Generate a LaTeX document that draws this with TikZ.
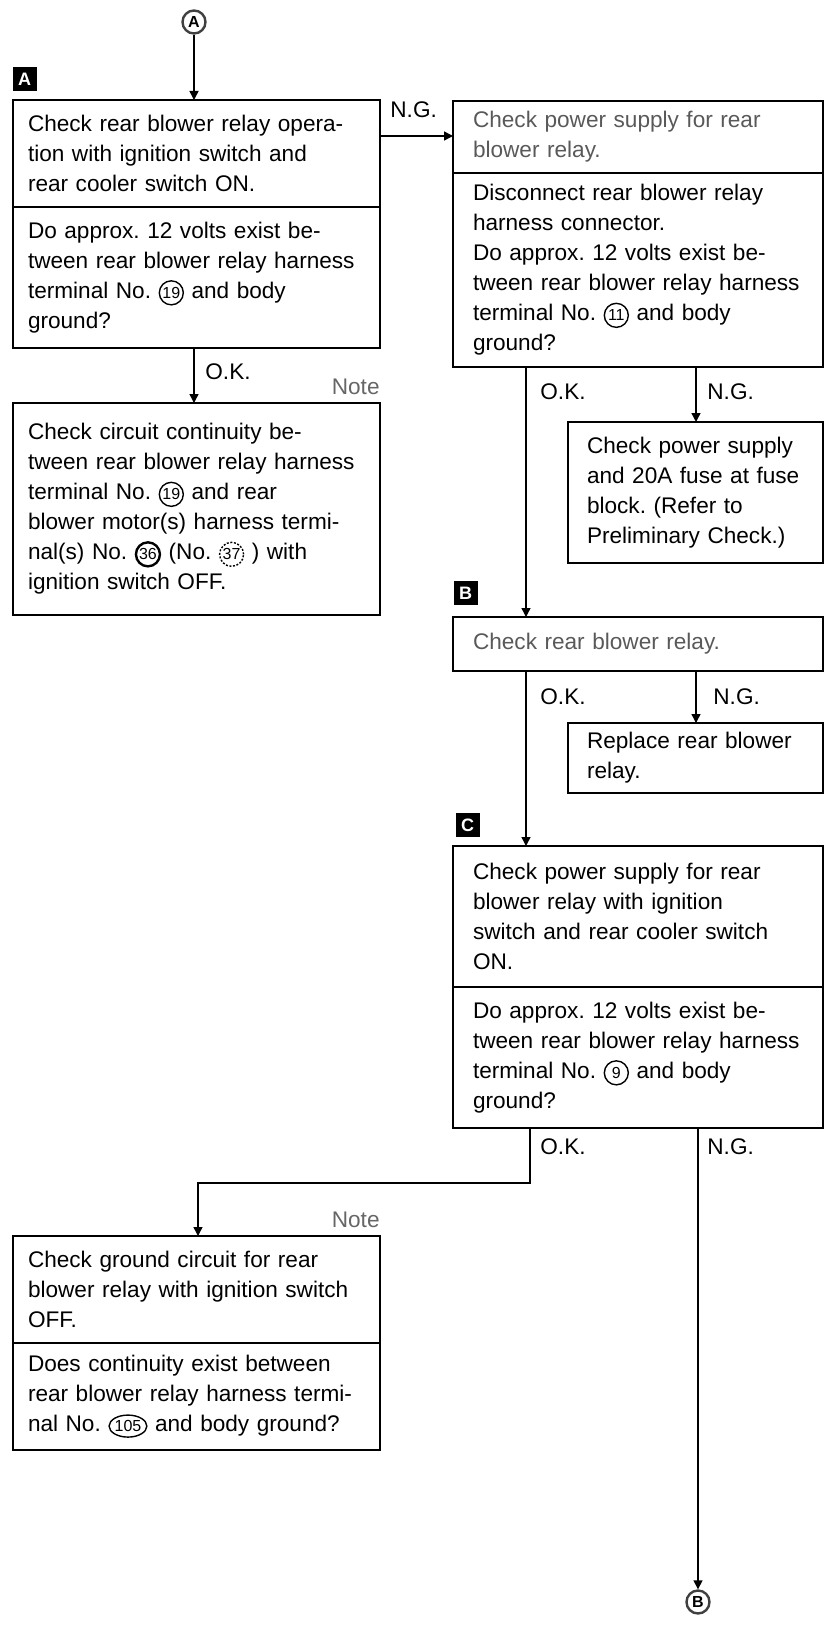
\documentclass[tikz,border=0pt]{standalone}
\usepackage{fontspec}
\setmainfont{Liberation Sans}
\usetikzlibrary{arrows.meta,shapes.geometric,calc}
\frenchspacing
\newcommand\cnum[2][]{\tikz[baseline=(cn.base)]\node[circle,draw=black,line width=0.7pt,inner sep=0.4pt,outer sep=0pt,minimum width=0pt,minimum height=0pt,minimum size=12pt,text width={},anchor=center,text=black,fill=none,font=\fontsize{8}{8}\selectfont,#1](cn){#2};}
\tikzset{
  box/.style={draw, line width=0.9pt, anchor=north west, align=left, inner ysep=0pt, outer sep=0pt,
    font=\fontsize{11.3}{15}\selectfont},
  lbox/.style={box, inner xsep=7.5pt, text width=168.5pt},
  rbox/.style={box, inner xsep=10pt, text width=165pt},
  nbox/.style={box, inner xsep=9.5pt, text width=108.5pt},
  lab/.style={font=\fontsize{11.3}{13}\selectfont, inner sep=0pt},
  notelab/.style={lab, anchor=east, text=black!60},
  tag/.style={fill=black, text=white, font=\fontsize{9}{9}\selectfont\bfseries, minimum size=12pt, inner sep=0pt},
  circ/.style={circle, draw=black!75, line width=1.2pt, minimum size=11.5pt, inner sep=0pt,
    font=\fontsize{8}{8}\selectfont\bfseries},
  arr/.style={line width=0.7pt, -{Triangle[width=4.5pt,length=4.5pt]}}
}
\begin{document}
\frenchspacing
\begin{tikzpicture}[x=0.5pt,y=-0.5pt]
\useasboundingbox (0,0) rectangle (831,1627);
% entry / exit circles
\node[circ] (cA) at (194,22) {A};
\node[circ] (cB) at (698,1602) {B};
% tags
\node[tag] (tA) at (24.5,79) {A};
\node[tag] (tB) at (465.5,593) {B};
\node[tag] (tC) at (467.5,825) {C};
% boxes
\node[lbox, minimum height=53.5pt] (b1top) at (13,100)
  {Check rear blower relay opera-\\tion with ignition switch and\\rear cooler switch ON.};
\node[lbox, minimum height=70.5pt] (b1bot) at (b1top.south west)
  {Do approx. 12 volts exist be-\\tween rear blower relay harness\\terminal No. \cnum{19} and body\\ground?};
\node[rbox, minimum height=36pt, text=black!65] (b2top) at (453,101)
  {Check power supply for rear\\blower relay.};
\node[rbox, minimum height=97pt] (b2bot) at (b2top.south west)
  {Disconnect rear blower relay\\harness connector.\\Do approx. 12 volts exist be-\\tween rear blower relay harness\\terminal No. \cnum{11} and body\\ground?};
\node[lbox, minimum height=106pt] (b3) at (13,403)
  {Check circuit continuity be-\\tween rear blower relay harness\\terminal No. \cnum{19} and rear\\blower motor(s) harness termi-\\nal(s) No. \cnum[line width=1.2pt]{36} (No. \cnum[dash pattern=on 1pt off 0.8pt]{37} ) with\\ignition switch OFF.};
\node[nbox, minimum height=70.5pt] (b4) at (568,422)
  {Check power supply\\and 20A fuse at fuse\\block. (Refer to\\Preliminary Check.)};
\node[rbox, minimum height=27pt, text=black!65] (b5) at (453,617)
  {Check rear blower relay.};
\node[nbox, minimum height=35pt] (b6) at (568,723)
  {Replace rear blower\\relay.};
\node[rbox, minimum height=70.5pt] (b7top) at (453,846)
  {Check power supply for rear\\blower relay with ignition\\switch and rear cooler switch\\ON.};
\node[rbox, minimum height=70.5pt] (b7bot) at (b7top.south west)
  {Do approx. 12 volts exist be-\\tween rear blower relay harness\\terminal No. \cnum{9} and body\\ground?};
\node[lbox, minimum height=53.5pt] (b8top) at (13,1236)
  {Check ground circuit for rear\\blower relay with ignition switch\\OFF.};
\node[lbox, minimum height=53.5pt] (b8bot) at (b8top.south west)
  {Does continuity exist between\\rear blower relay harness termi-\\nal No. \cnum[ellipse,inner xsep=0pt,inner ysep=0pt,minimum size=0pt,minimum height=11pt]{105} and body ground?};
% labels
\node[lab, anchor=west] (ng1) at (390,110) {N.G.};
\node[lab, anchor=west] (ok1) at (205,372) {O.K.};
\node[notelab] (note1) at (380,387) {Note};
\node[lab, anchor=west] (ok2) at (540,392) {O.K.};
\node[lab, anchor=west] (ng2) at (707,392) {N.G.};
\node[lab, anchor=west] (ok3) at (540,697) {O.K.};
\node[lab, anchor=west] (ng3) at (713,697) {N.G.};
\node[lab, anchor=west] (ok4) at (540,1147) {O.K.};
\node[lab, anchor=west] (ng4) at (707,1147) {N.G.};
\node[notelab] (note2) at (380,1220) {Note};
% helper coordinates
\coordinate (y136) at (0,136);
\coordinate (xa) at (526,0);
\coordinate (xb) at (696,0);
\coordinate (xc) at (530,0);
\coordinate (xd) at (198,0);
\coordinate (turn) at (530,1183);
% connectors
\draw[arr] (cA.south) -- (cA.south |- b1top.north);
\draw[arr] (b1top.east |- y136) -- (b2top.west |- y136);
\draw[arr] (b1bot.south -| cA) -- (b3.north -| cA);
\draw[arr] (b2bot.south -| xa) -- (b5.north -| xa);
\draw[arr] (b2bot.south -| xb) -- (b4.north -| xb);
\draw[arr] (b5.south -| xa) -- (b7top.north -| xa);
\draw[arr] (b5.south -| xb) -- (b6.north -| xb);
\draw[arr] (b7bot.south -| xc) -- (turn) -| (b8top.north -| xd);
\draw[arr] (b7bot.south -| cB) -- (cB.north);
\end{tikzpicture}
\end{document}
